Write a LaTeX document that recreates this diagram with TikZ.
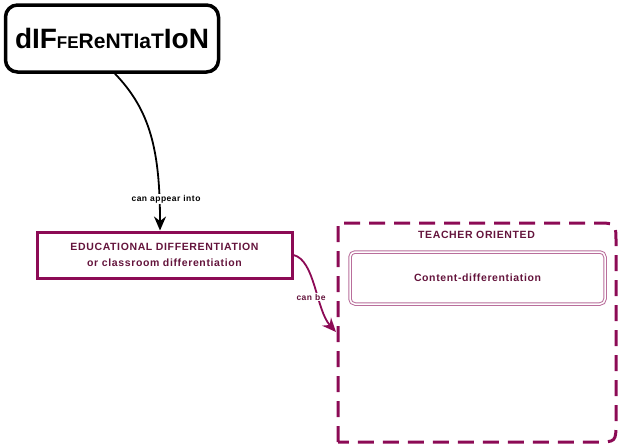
\documentclass[tikz,border=0pt]{standalone}
\usepackage{fontspec}
\setmainfont{Liberation Sans}
\newfontfamily\lblfont{Liberation Sans}[LetterSpace=6]
\usepackage{tikz}
\usetikzlibrary{arrows.meta}

\definecolor{plum}{RGB}{140,10,85}
\definecolor{plumtext}{RGB}{100,20,60}
\definecolor{plumlight}{RGB}{185,110,155}

\tikzset{
    conn/.style={line width=1.8pt, -{Stealth[length=14pt,width=12pt]}},
    lbl/.style={font=\lblfont\bfseries\fontsize{8.5}{10}\selectfont, fill=white, inner sep=1pt},
    boxtext/.style={font=\lblfont\bfseries\fontsize{10.5}{16}\selectfont, text=plumtext, align=center}
}

\begin{document}
\begin{tikzpicture}[x=1pt,y=-1pt]
    \useasboundingbox (0,0) rectangle (620,445);
    % main concept
    \node[draw, line width=3.5pt, rounded corners=12pt, minimum width=213pt, minimum height=67pt,
        font=\bfseries] (title) at (112,38.5)
        {\fontsize{28}{30}\selectfont dIF\fontsize{17}{30}\selectfont FE\fontsize{21}{30}\selectfont ReNTIaT\fontsize{28}{30}\selectfont IoN};
    % educational differentiation
    \node[draw=plum, line width=3pt, minimum width=255pt, minimum height=46pt, boxtext] (edu) at (164.5,255)
        {EDUCATIONAL DIFFERENTIATION\\or classroom differentiation};
    % teacher oriented group
    \draw[plum, line width=3pt, dash pattern=on 16pt off 9pt]
        (338,442) -- (338,223) -- (596,223) .. controls (616,223) .. (616,243)
        -- (616,422) .. controls (616,442) .. (596,442) -- cycle;
    \node[boxtext] (teacher) at (476.5,235) {TEACHER ORIENTED};
    \node[draw=plumlight, double, double distance=1.5pt, line width=1pt, rounded corners=5pt,
        minimum width=255pt, minimum height=52pt, boxtext] (content) at (477.5,278) {Content-differentiation};
    \coordinate (group) at (336,332);

    % connectors
    \draw[conn] ([xshift=3pt]title.south) .. controls (150,110) and (160,150) .. ([xshift=-4.5pt]edu.north);
    \draw[conn, plum] (edu.east) .. controls (315,260) and (316,310) .. (group);
    \node[lbl] (appear) at (166,199) {can appear into};
    \node[lbl, text=plumtext] (canbe) at (311,297) {can be};
\end{tikzpicture}
\end{document}
